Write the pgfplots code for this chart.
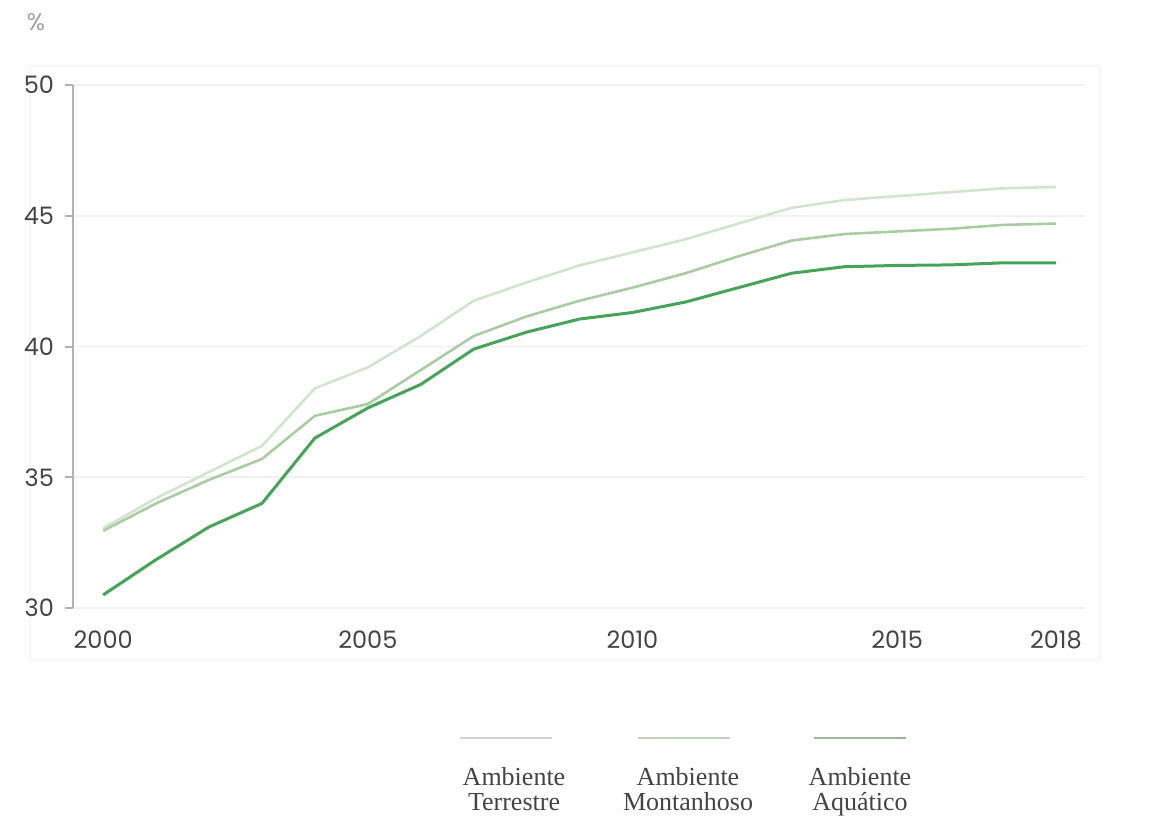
\documentclass[border=0pt]{standalone}
\usepackage{pgfplots}
\pgfplotsset{compat=1.18}
\usepackage{pgfplotstable}
\usepackage{fontspec}
\setmainfont{Liberation Serif}
\newfontfamily\tickfont{Poppins}
\definecolor{cTer}{HTML}{D2E4CE}
\definecolor{cMon}{HTML}{A9CCA3}
\definecolor{cAqu}{HTML}{45A458}
\definecolor{labgray}{HTML}{444444}
\pgfplotstableread{
year T M A
2000 33.05 32.95 30.5
2001 34.2 34.0 31.85
2002 35.2 34.9 33.1
2003 36.2 35.7 34.0
2004 38.4 37.35 36.5
2005 39.2 37.8 37.65
2006 40.4 39.1 38.55
2007 41.75 40.4 39.9
2008 42.45 41.15 40.55
2009 43.1 41.75 41.05
2010 43.6 42.25 41.3
2011 44.1 42.8 41.7
2012 44.7 43.45 42.25
2013 45.3 44.05 42.8
2014 45.6 44.3 43.05
2015 45.75 44.4 43.1
2016 45.9 44.5 43.12
2017 46.05 44.65 43.2
2018 46.1 44.7 43.2
}\datatable
\begin{document}
\begin{tikzpicture}
\useasboundingbox (0,0) rectangle (578pt,413pt);
\draw[gray!6, line width=0.8pt] (15pt,83pt) rectangle (550pt,380pt);
\begin{axis}[
  at={(36.5pt,109pt)}, anchor=south west,
  width=506pt, height=261.5pt, scale only axis,
  xmin=1999.43, xmax=2018.55, ymin=30, ymax=50,
  xtick={2000,2005,2010,2015,2018},
  ytick={30,35,40,45,50},
  xticklabel style={/pgf/number format/1000 sep={}},
  /pgf/number format/assume math mode=true,
  tick label style={font=\tickfont\fontsize{12}{14}\selectfont, text=labgray},
  axis x line*=bottom, axis y line*=left,
  x axis line style={draw=none},
  y axis line style={draw=gray!60, line width=1.2pt},
  xtick style={draw=none},
  ytick style={draw=gray!60, line width=1pt},
  tick align=outside, major tick length=4pt,
  ymajorgrids, grid style={gray!12, line width=0.9pt},
  xticklabel shift=4pt,
  yticklabel shift=2pt,
  clip=false,
]
\addplot[cTer, line width=1.3pt] table[x=year,y=T] {\datatable};
\addplot[cMon, line width=1.3pt] table[x=year,y=M] {\datatable};
\addplot[cAqu, line width=1.5pt] table[x=year,y=A] {\datatable};
\end{axis}
\node[text=gray!75, font=\tickfont\fontsize{12}{14}\selectfont] at (18pt,402pt) {\%};
% legend
\draw[gray!35, line width=0.8pt] (230pt,44pt) -- (276pt,44pt);
\draw[cTer!80!gray, line width=0.8pt] (319pt,44pt) -- (365pt,44pt);
\draw[cMon!70!gray, line width=0.8pt] (407pt,44pt) -- (453pt,44pt);
\tikzset{legtext/.style={anchor=base, inner sep=0pt, font=\fontsize{13}{12.5}\selectfont, text=labgray}}
\node[legtext] at (257pt,20.5pt) {Ambiente};
\node[legtext] at (257pt,8pt) {Terrestre};
\node[legtext] at (344pt,20.5pt) {Ambiente};
\node[legtext] at (344pt,8pt) {Montanhoso};
\node[legtext] at (430pt,20.5pt) {Ambiente};
\node[legtext] at (430pt,8pt) {Aquático};
\end{tikzpicture}
\end{document}
